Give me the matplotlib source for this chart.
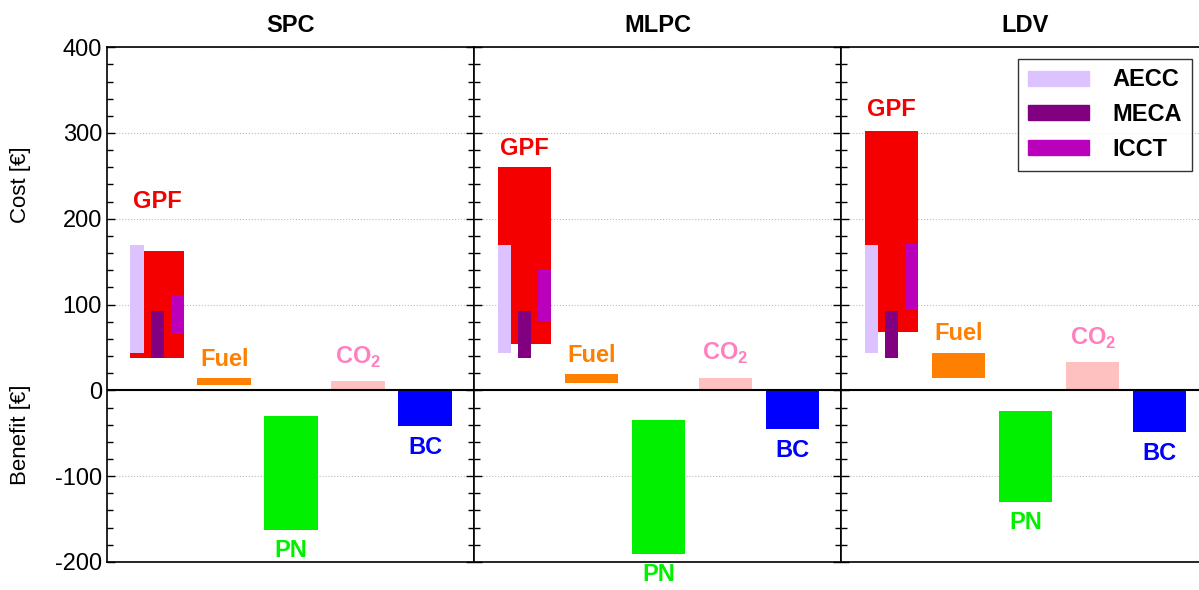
import matplotlib
matplotlib.use("Agg")
import matplotlib.pyplot as plt
import matplotlib.transforms as mtransforms
from matplotlib.patches import Patch
from matplotlib.ticker import MultipleLocator

plt.rcParams['font.family'] = ['Liberation Sans', 'DejaVu Sans']
plt.rcParams['mathtext.fontset'] = 'custom'
plt.rcParams['mathtext.rm'] = 'Liberation Sans'
plt.rcParams['mathtext.bf'] = 'Liberation Sans:bold'
plt.rcParams['axes.unicode_minus'] = False

# data, one value per panel
panels = ['SPC', 'MLPC', 'LDV']
gpf_lo = [38, 54, 68]
gpf_hi = [163, 260, 302]
aecc_lo = [43, 43, 43]
aecc_hi = [169, 169, 169]
meca_lo = [38, 38, 38]
meca_hi = [92, 92, 92]
icct_lo = [67, 81, 95]
icct_hi = [111, 141, 171]
fuel_lo = [6, 9, 15]
fuel_hi = [14, 19, 44]
co2_hi = [11, 15, 33]
pn_lo = [-163, -191, -130]
pn_hi = [-30, -35, -24]
bc_lo = [-41, -45, -48]
gpf_label_y = [220, 282, 327]

c_gpf = '#F50000'
c_aecc = '#DCC3FF'
c_meca = '#800080'
c_icct = '#BB00BB'
c_fuel = '#FF8000'
c_co2 = '#FFC0C0'
c_co2_txt = '#FF80C0'
c_pn = '#00F000'
c_bc = '#0000FF'

fig, axes = plt.subplots(1, 3, figsize=(11.99, 5.90), dpi=100, sharey=True)
# the right panel runs past the image edge, as in the reference
fig.subplots_adjust(left=0.0892, right=1.008, top=0.920, bottom=0.0475, wspace=0)

fs = 17
w = 0.8
sw = 0.2

for i, ax in enumerate(axes):
    ax.bar(1, gpf_hi[i] - gpf_lo[i], bottom=gpf_lo[i], width=w, color=c_gpf, zorder=2)
    ax.bar(1 - 0.3, aecc_hi[i] - aecc_lo[i], bottom=aecc_lo[i], width=sw, color=c_aecc, zorder=3)
    ax.bar(1, meca_hi[i] - meca_lo[i], bottom=meca_lo[i], width=sw, color=c_meca, zorder=3)
    ax.bar(1 + 0.3, icct_hi[i] - icct_lo[i], bottom=icct_lo[i], width=sw, color=c_icct, zorder=3)
    ax.bar(2, fuel_hi[i] - fuel_lo[i], bottom=fuel_lo[i], width=w, color=c_fuel, zorder=2)
    ax.bar(3, pn_lo[i] - pn_hi[i], bottom=pn_hi[i], width=w, color=c_pn, zorder=2)
    ax.bar(4, co2_hi[i], width=w, color=c_co2, zorder=2)
    ax.bar(5, bc_lo[i], width=w, color=c_bc, zorder=2)

    ax.text(1, gpf_label_y[i], 'GPF', color=c_gpf, fontsize=fs, fontweight='bold',
            ha='center', va='center')
    ax.text(2, fuel_hi[i] + 22, 'Fuel', color=c_fuel, fontsize=fs, fontweight='bold',
            ha='center', va='center')
    ax.text(4, co2_hi[i] + 28, r'CO$_\mathbf{2}$', color=c_co2_txt, fontsize=fs,
            fontweight='bold', ha='center', va='center')
    ax.text(3, pn_lo[i] - 24, 'PN', color=c_pn, fontsize=fs, fontweight='bold',
            ha='center', va='center')
    ax.text(5, bc_lo[i] - 25, 'BC', color=c_bc, fontsize=fs, fontweight='bold',
            ha='center', va='center')

    ax.axhline(0, color='black', lw=1.5, zorder=4)
    ax.set_xlim(0.25, 5.73)
    ax.set_ylim(-200, 400)
    ax.set_xticks([])
    ax.yaxis.set_major_locator(MultipleLocator(100))
    ax.yaxis.set_minor_locator(MultipleLocator(20))
    ax.tick_params(axis='y', which='both', direction='in', left=True, right=True,
                   labelsize=fs, width=1)
    ax.tick_params(axis='y', which='major', length=6)
    ax.tick_params(axis='y', which='minor', length=4)
    ax.grid(axis='y', which='major', linestyle=':', color='#BBBBBB', lw=0.8, zorder=0)
    for s in ax.spines.values():
        s.set_linewidth(1.2)
    ax.set_title(panels[i], fontsize=fs, fontweight='bold', pad=11)

axes[0].set_yticks([-200, -100, 0, 100, 200, 300, 400])

trans = mtransforms.blended_transform_factory(fig.transFigure, axes[0].transData)
axes[0].text(21 / 1199, 240, 'Cost [€]', rotation=90, fontsize=16,
             ha='center', va='center', transform=trans)
axes[0].text(21 / 1199, -52, 'Benefit [€]', rotation=90, fontsize=16,
             ha='center', va='center', transform=trans)

handles = [Patch(color=c_aecc, label='AECC'),
           Patch(color=c_meca, label='MECA'),
           Patch(color=c_icct, label='ICCT')]
leg = axes[2].legend(handles=handles, loc='upper right', bbox_to_anchor=(0.954, 0.977),
                     borderaxespad=0, fancybox=False, edgecolor='black',
                     prop={'weight': 'bold', 'size': fs}, handlelength=2.6,
                     handleheight=0.6, labelspacing=0.5, handletextpad=1.0)
leg.get_frame().set_linewidth(1.0)

fig.savefig('out.png', dpi=100)
